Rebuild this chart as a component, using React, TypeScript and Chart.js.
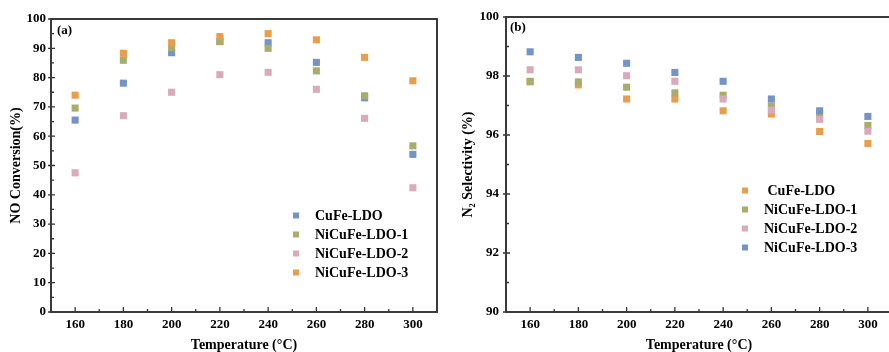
import React, { useEffect, useRef } from "react";
import { Chart, registerables } from "chart.js";

Chart.register(...registerables);

// ---- data ----
const temps = [160, 180, 200, 220, 240, 260, 280, 300];
const xTickValues = [160, 180, 200, 220, 240, 260, 280, 300];
const xMinorTicks = [170, 190, 210, 230, 250, 270, 290];

const leftLabels = ["CuFe-LDO", "NiCuFe-LDO-1", "NiCuFe-LDO-2", "NiCuFe-LDO-3"];
const convCuFe = [65.5, 78.1, 88.5, 92.3, 91.9, 85.2, 73.1, 53.8];
const convNi1 = [69.6, 85.9, 90.2, 92.3, 90.0, 82.3, 73.8, 56.7];
const convNi2 = [47.5, 67.0, 75.0, 81.0, 81.8, 76.0, 66.1, 42.4];
const convNi3 = [74.0, 88.3, 91.9, 94.0, 95.0, 92.9, 86.9, 78.9];
const leftYMinor = [5, 15, 25, 35, 45, 55, 65, 75, 85, 95];

const rightLabels = [" CuFe-LDO", "NiCuFe-LDO-1", "NiCuFe-LDO-2", "NiCuFe-LDO-3"];
const selCuFe = [97.8, 97.7, 97.22, 97.22, 96.82, 96.71, 96.12, 95.71];
const selNi1 = [97.82, 97.8, 97.62, 97.43, 97.35, 96.98, 96.7, 96.32];
const selNi2 = [98.21, 98.21, 98.01, 97.82, 97.22, 96.84, 96.53, 96.13];
const selNi3 = [98.82, 98.63, 98.43, 98.12, 97.82, 97.22, 96.82, 96.63];
const rightYMinor = [91, 93, 95, 97, 99];

const BLUE = "#7393C9";
const OLIVE = "#A8AD6B";
const PINK = "#D8AABB";
const ORANGE = "#E89E4C";

const FONT = "Liberation Serif";

function makeData(labels: string[], series: number[][], colors: string[]) {
  return {
    datasets: series.map((s, i) => ({
      label: labels[i],
      data: temps.map((t, j) => ({ x: t, y: s[j] })),
      backgroundColor: colors[i],
      borderColor: colors[i],
      borderWidth: 0,
      pointStyle: "rect" as const,
      pointRadius: 5,
      pointHoverRadius: 5,
      showLine: false,
      // later series are painted on top of earlier ones
      order: series.length - i,
    })),
  };
}

function framePlugin(panel: string, panelX: number, panelY: number, legendX: number, legendY: number, yMinor: number[]) {
  return {
    id: "frame" + panel.replace(/\W/g, ""),
    afterDraw(chart: any) {
      const { ctx, chartArea: ca, scales } = chart;
      const xs = scales.x;
      const ys = scales.y;
      ctx.save();
      // ticks
      ctx.strokeStyle = "#333";
      ctx.lineWidth = 1.3;
      ctx.beginPath();
      xs.ticks.forEach((t: any) => {
        const p = xs.getPixelForValue(t.value);
        ctx.moveTo(p, ca.bottom);
        ctx.lineTo(p, ca.bottom - 5);
      });
      xMinorTicks.forEach((v) => {
        const p = xs.getPixelForValue(v);
        ctx.moveTo(p, ca.bottom);
        ctx.lineTo(p, ca.bottom - 3);
      });
      ys.ticks.forEach((t: any) => {
        const p = ys.getPixelForValue(t.value);
        ctx.moveTo(ca.left - 3, p);
        ctx.lineTo(ca.left + 4, p);
      });
      yMinor.forEach((v) => {
        const p = ys.getPixelForValue(v);
        ctx.moveTo(ca.left, p);
        ctx.lineTo(ca.left + 3, p);
      });
      ctx.stroke();
      // frame
      ctx.strokeStyle = "#3a3a3a";
      ctx.lineWidth = 2;
      ctx.strokeRect(ca.left, ca.top, ca.right - ca.left, ca.bottom - ca.top);
      // panel label
      ctx.fillStyle = "#000";
      ctx.font = `bold 13px "${FONT}"`;
      ctx.textAlign = "left";
      ctx.textBaseline = "middle";
      ctx.fillText(panel, panelX, panelY);
      // legend
      ctx.font = `bold 14px "${FONT}"`;
      chart.data.datasets.forEach((ds: any, i: number) => {
        const y = legendY + i * 19;
        ctx.fillStyle = ds.backgroundColor;
        ctx.fillRect(legendX - 3, y - 3, 6, 6);
        ctx.fillStyle = "#000";
        ctx.fillText(ds.label, legendX + 19, y + 0.5);
      });
      ctx.restore();
    },
  };
}

function makeOptions(yMin: number, yMax: number, yStep: number, yTitle: string, yWidth: number, yTitlePad: number, yTickPad: number, padTop: number, padRight: number) {
  const tickFont = { family: FONT, size: 13, weight: "bold" as const };
  const titleFont = { family: FONT, size: 14, weight: "bold" as const, lineHeight: 1 };
  return {
    responsive: false,
    animation: false as const,
    events: [],
    layout: { padding: { top: padTop, right: padRight, left: 0, bottom: 0 } },
    plugins: { legend: { display: false }, tooltip: { enabled: false } },
    scales: {
      x: {
        type: "linear" as const,
        min: 150,
        max: 310,
        grid: { display: false, drawTicks: false },
        border: { display: false },
        afterBuildTicks: (s: any) => {
          s.ticks = xTickValues.map((v) => ({ value: v }));
        },
        afterFit: (s: any) => {
          s.height = 40;
        },
        ticks: { font: tickFont, color: "#000", padding: 5, maxRotation: 0 },
        title: {
          display: true,
          text: "Temperature (°C)",
          font: titleFont,
          color: "#000",
          padding: { top: 0, bottom: 0 },
        },
      },
      y: {
        type: "linear" as const,
        min: yMin,
        max: yMax,
        grid: { display: false, drawTicks: false },
        border: { display: false },
        afterFit: (s: any) => {
          s.width = yWidth;
        },
        ticks: { stepSize: yStep, font: tickFont, color: "#000", padding: yTickPad },
        title: {
          display: true,
          text: yTitle,
          font: titleFont,
          color: "#000",
          padding: { top: yTitlePad, bottom: 0 },
        },
      },
    },
  };
}

export default function App() {
  const leftRef = useRef<HTMLCanvasElement | null>(null);
  const rightRef = useRef<HTMLCanvasElement | null>(null);

  useEffect(() => {
    const left = new Chart(leftRef.current as HTMLCanvasElement, {
      type: "scatter",
      data: makeData(leftLabels, [convCuFe, convNi1, convNi2, convNi3], [BLUE, OLIVE, PINK, ORANGE]) as any,
      options: makeOptions(0, 100, 10, "NO Conversion(%)", 51, 9, 5, 19, 8) as any,
      plugins: [framePlugin("(a)", 57, 31, 296, 215.5, leftYMinor)],
    });
    const right = new Chart(rightRef.current as HTMLCanvasElement, {
      type: "scatter",
      data: makeData(rightLabels, [selCuFe, selNi1, selNi2, selNi3], [ORANGE, OLIVE, PINK, BLUE]) as any,
      options: makeOptions(90, 100, 2, "N₂ Selectivity (%)", 61, 16, 7, 17, 2) as any,
      plugins: [framePlugin("(b)", 65, 27.5, 300, 190.5, rightYMinor)],
    });
    return () => {
      left.destroy();
      right.destroy();
    };
  }, []);

  return (
    <div
      style={{
        position: "fixed",
        left: 0,
        top: 0,
        width: 889,
        height: 352,
        overflow: "hidden",
        background: "#fff",
      }}
    >
      <canvas ref={leftRef} width={445} height={352} style={{ position: "absolute", left: 0, top: 0 }} />
      <canvas ref={rightRef} width={452} height={352} style={{ position: "absolute", left: 445, top: 0 }} />
    </div>
  );
}
